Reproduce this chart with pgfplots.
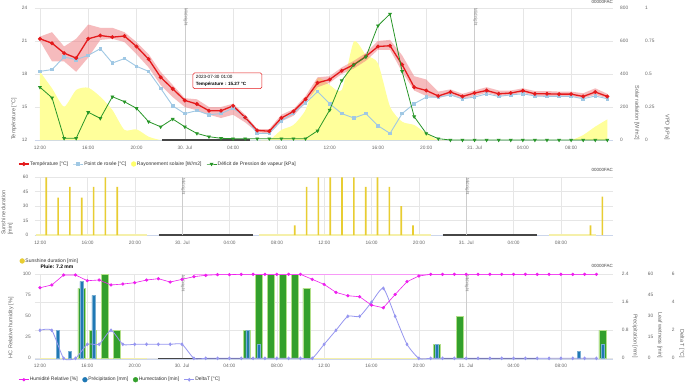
\documentclass[border=0pt]{standalone}
\usepackage{pgfplots}
\usepackage{pgfplotstable}
\pgfplotsset{compat=1.18}
\usepackage{fontspec}
\setmainfont{Liberation Sans}

\definecolor{tred}{RGB}{228,26,28}
\definecolor{tband}{RGB}{238,120,125}
\definecolor{dewblue}{RGB}{160,200,228}
\definecolor{solyel}{RGB}{255,255,155}
\definecolor{vpdgreen}{RGB}{40,150,40}
\definecolor{sunbar}{RGB}{232,205,50}
\definecolor{hummag}{RGB}{238,30,238}
\definecolor{precblue}{RGB}{31,120,180}
\definecolor{wetgreen}{RGB}{51,160,44}
\definecolor{wetlight}{RGB}{178,223,138}
\definecolor{dtlav}{RGB}{150,150,240}
\definecolor{gridc}{RGB}{230,230,230}
\definecolor{axisc}{RGB}{204,214,235}
\definecolor{labc}{RGB}{102,102,102}
\definecolor{nightc}{RGB}{70,70,70}
\definecolor{dayc}{RGB}{245,240,170}
\definecolor{midc}{RGB}{205,205,205}

\newcommand{\tickfont}{\fontsize{4.8}{5.5}\selectfont}
\newcommand{\legfont}{\fontsize{5}{6}\selectfont}
\newcommand{\titfont}{\fontsize{5.5}{6.5}\selectfont}
\newcommand{\smallfont}{\fontsize{4.5}{5}\selectfont}

\pgfplotstableread{
h T D S V
0 21.2 18.24 414 0.40
1 20.8 18.4 313 0.32
2 19.9 19.55 202 0.013
3 19.45 19.3 303 0.013
4 21.2 19.7 317 0.21
5 21.5 20.3 262 0.164
6 21.35 19.0 182 0.328
7 21.45 19.4 61 0.29
8 20.5 18.7 65 0.24
9 19.35 18.24 20 0.139
10 17.7 16.7 0 0.10
11 16.65 15.1 0 0.159
12 15.6 14.4 0 0.10
13 15.27 14.67 0 0.05
14 14.66 14.3 0 0.025
15 14.66 14.4 0 0.013
16 15.1 14.9 0 0.01
17 14.05 14.05 0 0.01
18 12.87 12.6 0 0.01
19 12.8 12.6 0 0.01
20 14.0 13.75 61 0.01
21 14.6 14.45 91 0.01
22 15.7 15.36 182 0.01
23 17.2 16.4 374 0.07
24 17.5 15.3 333 0.227
25 18.3 14.4 303 0.45
26 18.85 14.0 596 0.57
27 19.6 14.4 515 0.63
28 20.5 13.3 465 0.866
29 20.57 12.6 202 0.955
30 18.85 14.4 111 0.52
31 16.8 15.3 91 0.177
32 16.5 15.9 40 0.05
33 16.0 15.9 0 0.01
34 16.36 16.1 0 0
35 15.96 15.75 0 0
36 16.27 15.9 0 0
37 16.5 16.2 0 0
38 16.2 15.96 0 0
39 16.27 16.1 0 0
40 16.48 16.2 0 0
41 16.2 16.0 0 0
42 16.2 15.96 0 0
43 16.17 15.96 0 0
44 16.17 15.96 0 0
45 15.96 15.75 30 0
46 16.36 16.0 81 0
47 15.96 15.75 125 0
}\tabA

% temperature min/max band: upper bound forward, lower bound backward
\pgfplotstableread{
h b
0 21.4
1 21.8
2 20.5
3 21.2
4 22.5
5 22.2
6 22.2
7 21.8
8 20.9
9 19.8
10 18.2
11 17.0
12 15.8
13 15.7
14 15.0
15 15.0
16 15.3
17 14.3
18 13.0
19 13.0
20 14.3
21 14.8
22 16.0
23 17.7
24 17.8
25 18.6
26 19.2
27 19.9
28 21.0
29 21.1
30 19.7
31 17.8
32 17.5
33 16.4
34 16.6
35 16.2
36 16.5
37 16.8
38 16.5
39 16.5
40 16.7
41 16.45
42 16.45
43 16.4
44 16.4
45 16.25
46 16.7
47 16.2
47 15.8
46 16.1
45 15.8
44 16.0
43 16.0
42 16.0
41 16.0
40 16.3
39 16.1
38 16.0
37 16.3
36 16.0
35 15.7
34 16.1
33 15.8
32 16.0
31 16.5
30 18.2
29 20.2
28 20.2
27 19.2
26 18.5
25 18.0
24 17.2
23 16.8
22 15.4
21 14.2
20 13.7
19 12.6
18 12.7
17 13.6
16 14.3
15 14.0
14 14.3
13 14.7
12 15.0
11 15.9
10 17.0
9 18.6
8 19.8
7 20.9
6 21.2
5 21.1
4 19.5
3 18.2
2 19.15
1 19.15
0 21.0
}\tabBand

\pgfplotstableread{
x s
0.5 60
1.5 39
2.5 50
3.5 39
4.5 50
5.5 60
6.5 50
21.5 10
22.5 50
23.5 60
24.5 60
25.5 60
26.5 60
27.5 50
28.5 60
29.5 50
30.5 30
31.5 10
46.5 10
47.5 40
}\tabSun

\pgfplotstableread{
h H dT
0 84 2
1 87.3 2
2 99.2 0
3 99.2 0
4 92.4 1
5 93.2 1
6 87.3 2
7 88.4 1
8 90 1
9 93.2 1
10 94.8 1
11 90.8 1
12 94 1
13 97.2 0
14 98.8 0
15 99.6 0
16 99.6 0
17 100 0
18 100 0
19 100 0
20 100 0
21 100 0
22 100 0
23 94 0
24 88 1
25 78.5 2
26 74.5 3
27 73.3 3
28 63.3 4
29 60.2 5
30 76 3
31 91.2 1
32 98 0
33 100 0
34 100 0
35 100 0
36 100 0
37 100 0
38 100 0
39 100 0
40 100 0
41 100 0
42 100 0
43 100 0
44 100 0
45 100 0
46 100 0
47 100 0
}\tabC

\pgfplotstableread{
x p
1.5 0.8
2.5 0.2
3.5 2.2
4.5 1.8
17.5 0.8
18.5 0.4
33.5 0.4
45.5 0.2
47.5 0.4
}\tabP

\pgfplotstableread{
x w
3.5 50
4.5 20
5.5 60
6.5 20
17.5 20
18.5 60
19.5 60
20.5 60
21.5 60
22.5 50
33.5 10
35.5 30
47.5 20
}\tabW

\tikzset{midlab/.style={rotate=-90, anchor=south west, font=\smallfont, text=labc!80, inner sep=0.6pt, yshift=-2pt}}

\pgfplotsset{
  base/.style={
    scale only axis, width=578pt,
    axis line style={draw=none},
    major tick length=0pt,
    tick label style={font=\tickfont, text=labc},
    xtick=\empty, ytick=\empty,
    legend style={draw=none, fill=none, font=\legfont, text=black!80,
      legend columns=-1, inner sep=0pt,
      nodes={inner sep=0.7pt},
      /tikz/every even column/.append style={column sep=4pt}},
    legend cell align=left,
    legend image code/.code={\draw[mark repeat=2,mark phase=2,##1] plot coordinates {(0pt,0pt) (5pt,0pt) (10pt,0pt)};},
  },
  timeaxis/.style={
    xtick={0,4,...,44},
    xticklabels={12:00,16:00,20:00,30. Jul,04:00,08:00,12:00,16:00,20:00,31. Jul,04:00,08:00},
    xmajorgrids, ymajorgrids, major grid style={gridc, line width=0.5pt},
    xticklabel style={inner sep=0pt, anchor=north, yshift=-6pt},
  },
  leftlab/.style={ytick pos=left, yticklabel pos=left, yticklabel style={inner sep=0pt, anchor=east, xshift=-#1}},
  rightlab/.style={ytick pos=right, yticklabel pos=right, yticklabel style={inner sep=0pt, anchor=west, xshift=#1}},
  ltitle/.style={every axis y label/.style={at={(axis description cs:#1,0)}, rotate=90, anchor=west, font=\titfont, text=labc, inner sep=0pt}},
  rtitle/.style={every axis y label/.style={at={(axis description cs:#1,0)}, rotate=-90, anchor=east, font=\titfont, text=labc, inner sep=0pt}},
}

\begin{document}
\begin{tikzpicture}
\fill[white] (0pt,0pt) rectangle (690pt,384pt);
\path[use as bounding box] (0pt,0pt) rectangle (690pt,384pt);

% ================= PANEL 1 =================
\begin{axis}[base, timeaxis, at={(35pt,244pt)}, anchor=south west, height=132pt,
  xmin=-0.41, xmax=47.47, ymin=0, ymax=800,
  ytick={0,200,400,600,800}, yticklabels={0,200,400,600,800}, rightlab=7pt,
  rtitle=1.041, ylabel={Solar radiation [W/m2]}]
\addplot[axisc, line width=0.6pt, forget plot] coordinates {(-0.41,0) (47.47,0)};
\addplot[draw=none, fill=solyel, smooth, tension=0.4, forget plot] table[x=h,y=S]{\tabA} \closedcycle;
\addplot[midc, line width=0.6pt, forget plot] coordinates {(12,0) (12,800)};
\addplot[midc, line width=0.6pt, forget plot] coordinates {(36,0) (36,800)};
\node[midlab] at (axis cs:12,800) {Midnight};
\node[midlab] at (axis cs:36,800) {Midnight};
\end{axis}

\begin{axis}[base, at={(35pt,244pt)}, anchor=south west, height=132pt,
  xmin=-0.41, xmax=47.47, ymin=12, ymax=24,
  ytick={12,15,18,21,24}, yticklabels={12,15,18,21,24}, leftlab=7.5pt,
  ltitle=-0.0363, ylabel={Température [°C]}]
\addplot[fill=tband, fill opacity=0.5, draw=none, forget plot] table[x=h,y=b]{\tabBand};
\addplot[dewblue, line width=0.9pt, mark=square*, mark size=1.3pt, forget plot] table[x=h,y=D]{\tabA};
\addplot[tred, line width=1.3pt, mark=*, mark size=1.25pt, forget plot] table[x=h,y=T]{\tabA};
\end{axis}

\begin{axis}[base, at={(35pt,244pt)}, anchor=south west, height=132pt,
  xmin=-0.41, xmax=47.47, ymin=0, ymax=1, clip=false,
  ytick={0,0.25,0.5,0.75,1}, yticklabels={0,0.25,0.5,0.75,1}, rightlab=32pt,
  rtitle=1.0934, ylabel={VPD [kPa]},
  legend style={at={(-0.0294,-0.1818)}, anchor=west}]
\addlegendimage{tred, line width=1.3pt, mark=*, mark size=1.25pt}
\addlegendentry{Température [°C]}
\addlegendimage{dewblue, line width=0.9pt, mark=square*, mark size=1.3pt}
\addlegendentry{Point de rosée [°C]}
\addlegendimage{legend image code/.code={\fill[solyel!70!yellow] (2.5pt,0pt) circle (2.4pt);}}
\addlegendentry{Rayonnement solaire [W/m2]}
\addlegendimage{vpdgreen, line width=0.8pt, mark=triangle*, mark size=1.5pt, mark options={rotate=180}}
\addlegendentry{Déficit de Pression de vapeur [kPa]}
\addplot[nightc, line width=1.1pt, forget plot] coordinates {(10.1,0) (17.4,0)};
\addplot[vpdgreen, line width=0.8pt, mark=triangle*, mark size=1.5pt, mark options={rotate=180}, forget plot] table[x=h,y=V]{\tabA};
\end{axis}

% ================= PANEL 2 =================
\begin{axis}[base, timeaxis, at={(35pt,149pt)}, anchor=south west, height=57.7pt,
  xmin=-0.45, xmax=48.4, ymin=0, ymax=60, clip=false,
  ytick={0,15,30,45,60}, yticklabels={0,15,30,45,60}, leftlab=6.5pt,
  every axis y label/.style={at={(axis description cs:-0.0375,0)}, rotate=90, anchor=south west, font=\titfont, text=labc, inner sep=0pt, align=left},
  ylabel={Sunshine duration\\{[min]}},
  legend style={at={(-0.027,-0.45)}, anchor=west}]
\addlegendimage{legend image code/.code={\fill[sunbar] (2.5pt,0pt) circle (2.4pt);}}
\addlegendentry{Sunshine duration [min]}
\addplot[axisc, line width=0.8pt, forget plot] coordinates {(-0.45,-0.9) (48.4,-0.9)};
\addplot[dayc, line width=1.1pt, forget plot] coordinates {(-0.4,0) (9,0)};
\addplot[nightc, line width=1.1pt, forget plot] coordinates {(10,0) (18,0)};
\addplot[dayc, line width=1.1pt, forget plot] coordinates {(18.5,0) (33,0)};
\addplot[nightc, line width=1.1pt, forget plot] coordinates {(34,0) (42,0)};
\addplot[dayc, line width=1.1pt, forget plot] coordinates {(43,0) (47,0)};
\addplot[midc, line width=0.6pt, forget plot] coordinates {(12,0) (12,60)};
\addplot[midc, line width=0.6pt, forget plot] coordinates {(36,0) (36,60)};
\node[midlab] at (axis cs:12,60) {Midnight};
\node[midlab] at (axis cs:36,60) {Midnight};
\addplot[ybar, bar width=1.6pt, fill=sunbar, draw=none, forget plot] table[x=x,y=s]{\tabSun};
\end{axis}

% ================= PANEL 3 =================
\begin{axis}[base, timeaxis, at={(35pt,25.7pt)}, anchor=south west, height=84pt,
  xmin=-0.42, xmax=48.4, ymin=0, ymax=2.4, clip=false,
  ytick={0,0.8,1.6,2.4}, yticklabels={0,0.8,1.6,2.4}, rightlab=8.7pt,
  rtitle=1.038, ylabel={Precipitation [mm]}]
\addplot[axisc, line width=0.8pt, forget plot] coordinates {(-0.42,-0.02) (48.4,-0.02)};
\addplot[dayc, line width=1.1pt, forget plot] coordinates {(0,0) (9,0)};
\addplot[nightc, line width=1.1pt, forget plot] coordinates {(10,0) (18,0)};
\addplot[dayc, line width=1.1pt, forget plot] coordinates {(18.5,0) (33,0)};
\addplot[nightc, line width=1.1pt, forget plot] coordinates {(34,0) (42,0)};
\addplot[dayc, line width=1.1pt, forget plot] coordinates {(43,0) (47,0)};
\addplot[midc, line width=0.6pt, forget plot] coordinates {(12,0) (12,2.4)};
\addplot[midc, line width=0.6pt, forget plot] coordinates {(36,0) (36,2.4)};
\node[midlab] at (axis cs:12,2.4) {Midnight};
\node[midlab] at (axis cs:36,2.4) {Midnight};
\end{axis}

\begin{axis}[base, at={(35pt,25.7pt)}, anchor=south west, height=84pt,
  xmin=-0.42, xmax=48.4, ymin=0, ymax=60,
  ytick={0,15,30,45,60}, yticklabels={0,15,30,45,60}, rightlab=34.7pt,
  rtitle=1.081, ylabel={Leaf wetness [min]}]
\addplot[ybar, bar width=7pt, fill=wetgreen, draw=wetlight, line width=0.6pt, forget plot] table[x=x,y=w]{\tabW};
\end{axis}

\begin{axis}[base, at={(35pt,25.7pt)}, anchor=south west, height=84pt,
  xmin=-0.42, xmax=48.4, ymin=0, ymax=2.4]
\addplot[ybar, bar width=3pt, fill=precblue, draw=precblue!60!white, line width=0.3pt, forget plot] table[x=x,y=p]{\tabP};
\end{axis}

\begin{axis}[base, at={(35pt,25.7pt)}, anchor=south west, height=84pt,
  xmin=-0.42, xmax=48.4, ymin=0, ymax=6, clip=false,
  ytick={0,2,4,6}, yticklabels={0,2,4,6}, rightlab=58.7pt,
  rtitle=1.119, ylabel={Delta T [°C]}]
\addplot[dtlav, line width=0.8pt, smooth, tension=0.35, mark=diamond*, mark size=1.3pt, forget plot] table[x=h,y=dT]{\tabC};
\end{axis}

\begin{axis}[base, at={(35pt,25.7pt)}, anchor=south west, height=84pt,
  xmin=-0.42, xmax=48.4, ymin=0, ymax=100, clip=false,
  ytick={0,25,50,75,100}, yticklabels={0,25,50,75,100}, leftlab=4pt,
  ltitle=-0.0415, ylabel={HC Relative humidity [\%]},
  legend style={at={(-0.0288,-0.255)}, anchor=west}]
\addlegendimage{hummag, line width=0.6pt, mark=*, mark size=1.3pt}
\addlegendentry{Humidité Relative [\%]}
\addlegendimage{legend image code/.code={\fill[precblue] (2.5pt,0pt) circle (2.4pt);}}
\addlegendentry{Précipitation [mm]}
\addlegendimage{legend image code/.code={\fill[wetgreen] (2.5pt,0pt) circle (2.4pt);}}
\addlegendentry{Humectation [min]}
\addlegendimage{dtlav, line width=0.8pt, mark=diamond*, mark size=1.3pt}
\addlegendentry{DeltaT [°C]}
\addplot[hummag!45, line width=1.6pt, forget plot] coordinates {(13,100) (47,100)};
\addplot[hummag, line width=0.6pt, mark=*, mark size=1.3pt, forget plot] table[x=h,y=H]{\tabC};
\end{axis}

% ================= texts =================
\node[anchor=north east, inner sep=0pt, font=\smallfont, text=black!75] at (613pt,384pt) {00000FAC};
\node[anchor=east, inner sep=0pt, font=\smallfont, text=black!75] at (613pt,214pt) {00000FAC};
\node[anchor=east, inner sep=0pt, font=\smallfont, text=black!75] at (613pt,118pt) {00000FAC};
\node[inner sep=0pt, font=\fontsize{5}{6}\selectfont\bfseries] at (57pt,117pt) {Pluie: 7.2 mm};
\node[draw=tred, fill=white, fill opacity=0.9, text opacity=1, rounded corners=1.5pt,
  line width=0.5pt, anchor=north west, inner xsep=3pt, inner ysep=2.5pt, align=left,
  text width=63pt, font=\fontsize{4.6}{6.5}\selectfont] at (192.7pt,311.3pt)
  {2023-07-30 01:00\\\textbf{Température :\ 15.27 °C}};
\end{tikzpicture}
\end{document}
